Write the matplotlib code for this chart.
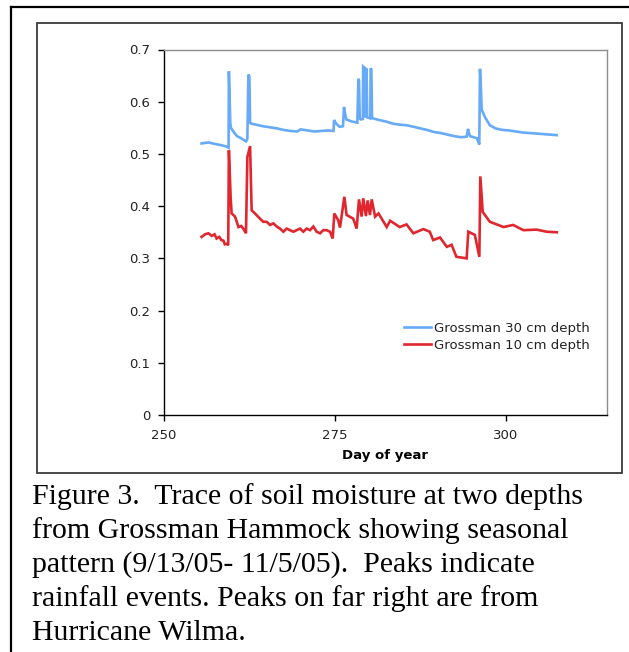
import matplotlib
matplotlib.use("Agg")
import matplotlib.pyplot as plt
from matplotlib.lines import Line2D
from matplotlib.patches import Rectangle

# ---------------- data ----------------
days_30cm = [255.5, 256.5, 257.5, 258.3, 259.2, 259.45, 259.5, 259.6, 259.7, 259.8,
             260.2, 260.7, 261.3, 262.0, 262.2, 262.35, 262.5, 262.6, 262.8, 263.5,
             264.5, 265.5, 266.5, 267.5, 268.5, 269.5, 270.0, 271.0, 272.0, 273.0,
             274.0, 274.8, 274.9, 275.2, 275.7, 276.2, 276.35, 276.45, 276.7, 277.5,
             278.3, 278.45, 278.55, 278.65, 278.8, 279.1, 279.15, 279.3, 279.4, 279.55,
             279.65, 279.75, 280.2, 280.25, 280.35, 280.45, 280.6, 281.5, 282.5, 283.5,
             284.5, 285.5, 286.5, 287.5, 288.5, 289.5, 290.5, 291.5, 292.5, 293.5,
             294.3, 294.5, 294.65, 294.8, 295.8, 296.15, 296.25, 296.35, 296.5, 297.0,
             297.7, 298.5, 299.5, 300.5, 301.5, 302.5, 303.5, 304.5, 305.5, 306.5, 307.5]
vals_30cm = [0.520, 0.522, 0.519, 0.517, 0.514, 0.512, 0.658, 0.610, 0.560, 0.550,
             0.542, 0.534, 0.530, 0.524, 0.528, 0.652, 0.648, 0.560, 0.558, 0.556,
             0.553, 0.551, 0.549, 0.546, 0.544, 0.543, 0.547, 0.545, 0.543, 0.544,
             0.545, 0.544, 0.565, 0.558, 0.552, 0.553, 0.590, 0.580, 0.566, 0.562,
             0.560, 0.644, 0.640, 0.568, 0.566, 0.567, 0.667, 0.665, 0.570, 0.663,
             0.662, 0.570, 0.568, 0.664, 0.662, 0.570, 0.568, 0.565, 0.562, 0.558,
             0.556, 0.555, 0.552, 0.549, 0.546, 0.542, 0.540, 0.537, 0.534, 0.532,
             0.533, 0.548, 0.540, 0.534, 0.530, 0.518, 0.663, 0.640, 0.585, 0.570,
             0.555, 0.549, 0.546, 0.545, 0.543, 0.541, 0.540, 0.539, 0.538, 0.537, 0.536]

days_10cm = [255.5, 256.0, 256.5, 257.0, 257.4, 257.7, 258.1, 258.4, 258.7, 258.9,
             259.2, 259.4, 259.5, 259.76, 259.9, 260.4, 260.7, 260.9, 261.3, 261.6,
             262.0, 262.2, 262.6, 262.83, 263.32, 264.05, 264.54, 265.03, 265.52, 266.0,
             266.5, 266.98, 267.47, 267.96, 268.44, 268.93, 269.42, 269.91, 270.4, 270.88,
             271.37, 271.86, 272.35, 272.84, 273.32, 273.81, 274.3, 274.69, 274.93, 275.5,
             275.76, 276.4, 276.73, 277.7, 278.2, 278.54, 278.93, 279.17, 279.56, 279.81,
             280.15, 280.4, 280.9, 281.4, 282.6, 283.1, 284.5, 285.5, 286.5, 287.96,
             288.9, 289.4, 290.4, 291.4, 292.1, 292.8, 294.3, 294.54, 295.5, 296.16,
             296.3, 296.65, 297.7, 299.7, 301.1, 302.6, 304.55, 306.0, 307.5]
vals_10cm = [0.341, 0.346, 0.348, 0.343, 0.346, 0.338, 0.341, 0.335, 0.334, 0.327,
             0.328, 0.325, 0.507, 0.415, 0.386, 0.380, 0.368, 0.360, 0.362, 0.357,
             0.348, 0.494, 0.515, 0.392, 0.386, 0.376, 0.370, 0.370, 0.364, 0.367,
             0.361, 0.357, 0.351, 0.357, 0.354, 0.351, 0.354, 0.357, 0.351, 0.357,
             0.354, 0.361, 0.351, 0.348, 0.354, 0.354, 0.351, 0.338, 0.386, 0.373,
             0.359, 0.418, 0.383, 0.376, 0.357, 0.413, 0.380, 0.415, 0.381, 0.411,
             0.383, 0.413, 0.380, 0.386, 0.360, 0.372, 0.360, 0.365, 0.348, 0.356,
             0.351, 0.335, 0.340, 0.322, 0.326, 0.303, 0.300, 0.351, 0.345, 0.303,
             0.457, 0.389, 0.370, 0.360, 0.364, 0.354, 0.355, 0.351, 0.350]

series_labels = ["Grossman 30 cm depth", "Grossman 10 cm depth"]
x_ticks = [250, 275, 300]
y_ticks = [0, 0.1, 0.2, 0.3, 0.4, 0.5, 0.6, 0.7]
y_tick_labels = ["0", "0.1", "0.2", "0.3", "0.4", "0.5", "0.6", "0.7"]
x_label = "Day of year"
caption_lines = [
    "Figure 3.  Trace of soil moisture at two depths",
    "from Grossman Hammock showing seasonal",
    "pattern (9/13/05- 11/5/05).  Peaks indicate",
    "rainfall events. Peaks on far right are from",
    "Hurricane Wilma.",
]

# ---------------- figure ----------------
W, H = 629, 652
fig = plt.figure(figsize=(W / 100, H / 100), dpi=100)
plt.rcParams['font.family'] = ['DejaVu Sans']

def fx(px):
    return px / W

def fy(py):
    return 1 - py / H

# outer border (left and top visible)
fig.add_artist(Line2D([fx(11), fx(11)], [fy(7), 0], transform=fig.transFigure,
                      color='black', lw=1.6))
fig.add_artist(Line2D([fx(11), 1.0], [fy(7), fy(7)], transform=fig.transFigure,
                      color='black', lw=1.6))
# inner chart box
fig.add_artist(Rectangle((fx(37), fy(473)), fx(622) - fx(37), fy(23) - fy(473),
                         transform=fig.transFigure, fill=False,
                         edgecolor='#3a3a3a', lw=1.3))

ax = fig.add_axes([fx(164), fy(415), fx(606.7) - fx(164), fy(49.5) - fy(415)])
ax.plot(days_30cm, vals_30cm, color='#66aaf8', lw=1.9, label=series_labels[0],
        solid_joinstyle='miter')
ax.plot(days_10cm, vals_10cm, color='#e0262e', lw=1.9, label=series_labels[1],
        solid_joinstyle='miter')

ax.set_xlim(250, 314.8)
ax.set_ylim(0, 0.7)
ax.set_xticks(x_ticks)
ax.set_xticklabels([str(t) for t in x_ticks])
ax.set_yticks(y_ticks)
ax.set_yticklabels(y_tick_labels)
ax.tick_params(axis='both', direction='out', length=4, width=1, labelsize=9.5,
               colors='black', labelcolor='#222222', pad=6)
for s in ['left', 'bottom']:
    ax.spines[s].set_color('black')
    ax.spines[s].set_linewidth(1.0)
for s in ['top', 'right']:
    ax.spines[s].set_color('#8c8c8c')
    ax.spines[s].set_linewidth(1.0)

ax.set_xlabel(x_label, fontsize=9.5, fontweight='bold', labelpad=5)

leg = ax.legend(loc='upper left', bbox_to_anchor=(fx(404), fy(322)),
                bbox_transform=fig.transFigure, frameon=False, fontsize=9.5,
                borderpad=0, borderaxespad=0, handlelength=2.05,
                handletextpad=0.2, labelspacing=0.3)
for t in leg.get_texts():
    t.set_color('#222222')

# caption
cap_y = [497, 531, 565, 599, 633]
for line, py in zip(caption_lines, cap_y):
    fig.text(fx(32), fy(py), line, ha='left', va='center',
             family=['Liberation Serif'], fontsize=21.5, color='black')

fig.savefig('out.png', dpi=100)
